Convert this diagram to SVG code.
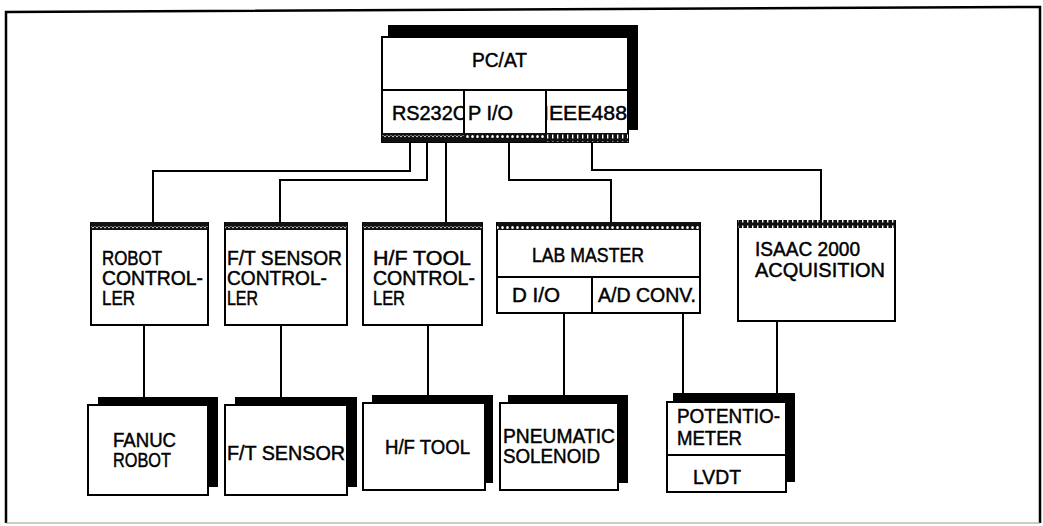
<svg xmlns="http://www.w3.org/2000/svg" width="1043" height="526" viewBox="0 0 1043 526">
<style>
.box{fill:#fff;stroke:#000;stroke-width:2}
.div{fill:none;stroke:#000;stroke-width:2}
.sh{fill:#000}
.con{fill:none;stroke:#000;stroke-width:2;stroke-linejoin:miter}
text{font-family:"Liberation Sans",Arial,Helvetica,sans-serif;font-size:19.5px;fill:#000;stroke:#000;stroke-width:0.45}
</style>
<defs>
<pattern id="pDots" width="4" height="7" patternUnits="userSpaceOnUse">
<rect width="4" height="7" fill="#111"/>
<circle cx="1" cy="3.5" r="0.8" fill="#fff"/>
<circle cx="3" cy="2.5" r="0.6" fill="#ddd"/>
</pattern>
<pattern id="pWave" width="5" height="7" patternUnits="userSpaceOnUse">
<rect width="5" height="7" fill="#111"/>
<ellipse cx="2.5" cy="3.5" rx="1.3" ry="1.6" fill="#fff"/>
</pattern>
<pattern id="pTicks" width="5" height="7" patternUnits="userSpaceOnUse">
<rect width="5" height="7" fill="#111"/>
<rect x="2" y="1.5" width="1.4" height="4" fill="#fff"/>
</pattern>
<clipPath id="cRS"><rect x="382" y="90" width="82" height="43"/></clipPath>
<clipPath id="cIE"><rect x="546" y="90" width="82" height="43"/></clipPath>
</defs>
<rect width="1043" height="526" fill="#fff"/>
<g id="frame">
<polyline points="6,523 6,12 1040,7 1040,523" fill="none" stroke="#000" stroke-width="2.5"/>
<line x1="6" y1="523" x2="1040" y2="523" stroke="#999" stroke-width="1"/>
</g>
<g id="connectors">
<polyline class="con" points="410,142 410,171 153,171 153,223"/>
<polyline class="con" points="427,142 427,180 280,180 280,223"/>
<polyline class="con" points="446,142 446,223"/>
<polyline class="con" points="509,142 509,180 611,180 611,222"/>
<polyline class="con" points="592,142 592,170 821,170 821,220"/>
<line class="con" x1="144" y1="325" x2="144" y2="398"/>
<line class="con" x1="281" y1="325" x2="281" y2="398"/>
<line class="con" x1="428" y1="325" x2="428" y2="396"/>
<line class="con" x1="564" y1="313" x2="564" y2="396"/>
<line class="con" x1="683" y1="313" x2="683" y2="394"/>
<line class="con" x1="777" y1="321" x2="777" y2="394"/>
</g>
<g id="pcat">
<rect class="sh" x="388" y="25" width="250" height="105"/>
<rect class="box" x="382" y="37" width="246" height="105"/>
<line class="div" x1="382" y1="90" x2="628" y2="90"/>
<rect x="382" y="133" width="82" height="9" fill="url(#pDots)"/>
<rect x="464" y="133" width="82" height="9" fill="url(#pWave)"/>
<rect x="546" y="133" width="82" height="9" fill="url(#pTicks)"/>
<line class="div" x1="464" y1="90" x2="464" y2="133"/>
<line class="div" x1="546" y1="90" x2="546" y2="133"/>
<text x="472" y="67" textLength="55" lengthAdjust="spacingAndGlyphs">PC/AT</text>
<text x="392" y="120" textLength="75" lengthAdjust="spacingAndGlyphs" clip-path="url(#cRS)">RS232C</text>
<text x="468" y="120" textLength="45" lengthAdjust="spacingAndGlyphs">P I/O</text>
<text x="543" y="120" textLength="84" lengthAdjust="spacingAndGlyphs" clip-path="url(#cIE)">IEEE488</text>
</g>
<g id="robot-controller">
<rect class="box" x="91" y="223" width="117" height="102"/>
<rect x="91" y="222" width="117" height="8" fill="url(#pDots)"/>
<text x="102" y="265" textLength="60" lengthAdjust="spacingAndGlyphs">ROBOT</text>
<text x="102" y="285" textLength="101" lengthAdjust="spacingAndGlyphs">CONTROL-</text>
<text x="102" y="305" textLength="33" lengthAdjust="spacingAndGlyphs">LER</text>
</g>
<g id="ft-controller">
<rect class="box" x="225" y="223" width="122" height="102"/>
<rect x="225" y="222" width="122" height="8" fill="url(#pDots)"/>
<text x="227" y="265" textLength="115" lengthAdjust="spacingAndGlyphs">F/T SENSOR</text>
<text x="227" y="285" textLength="100" lengthAdjust="spacingAndGlyphs">CONTROL-</text>
<text x="227" y="305" textLength="31" lengthAdjust="spacingAndGlyphs">LER</text>
</g>
<g id="hf-controller">
<rect class="box" x="363" y="223" width="119" height="102"/>
<rect x="363" y="222" width="119" height="8" fill="url(#pDots)"/>
<text x="373" y="265" textLength="98" lengthAdjust="spacingAndGlyphs">H/F TOOL</text>
<text x="373" y="285" textLength="102" lengthAdjust="spacingAndGlyphs">CONTROL-</text>
<text x="373" y="305" textLength="32" lengthAdjust="spacingAndGlyphs">LER</text>
</g>
<g id="lab-master">
<rect class="box" x="497" y="223" width="203" height="90"/>
<rect x="497" y="222" width="203" height="8" fill="url(#pWave)"/>
<line class="div" x1="497" y1="277" x2="700" y2="277"/>
<line class="div" x1="592" y1="277" x2="592" y2="313"/>
<text x="532" y="262" textLength="112" lengthAdjust="spacingAndGlyphs">LAB MASTER</text>
<text x="512" y="302" textLength="48" lengthAdjust="spacingAndGlyphs">D  I/O</text>
<text x="598" y="302" textLength="98" lengthAdjust="spacingAndGlyphs">A/D CONV.</text>
</g>
<g id="isaac">
<rect class="box" x="738" y="221" width="157" height="100"/>
<rect x="738" y="220" width="157" height="8" fill="url(#pTicks)"/>
<text x="755" y="256" textLength="105" lengthAdjust="spacingAndGlyphs">ISAAC 2000</text>
<text x="755" y="277" textLength="130" lengthAdjust="spacingAndGlyphs">ACQUISITION</text>
</g>
<g id="fanuc">
<rect class="sh" x="98" y="397" width="120" height="90"/>
<rect class="box" x="88" y="405" width="120" height="90"/>
<text x="113" y="447" textLength="63" lengthAdjust="spacingAndGlyphs">FANUC</text>
<text x="113" y="467" textLength="58" lengthAdjust="spacingAndGlyphs">ROBOT</text>
</g>
<g id="ft-sensor">
<rect class="sh" x="235" y="397" width="122" height="90"/>
<rect class="box" x="225" y="405" width="122" height="90"/>
<text x="227" y="460" textLength="118" lengthAdjust="spacingAndGlyphs">F/T SENSOR</text>
</g>
<g id="hf-tool">
<rect class="sh" x="372" y="395" width="121" height="88"/>
<rect class="box" x="363" y="403" width="122" height="87"/>
<text x="385" y="454" textLength="85" lengthAdjust="spacingAndGlyphs">H/F TOOL</text>
</g>
<g id="pneumatic">
<rect class="sh" x="508" y="395" width="120" height="88"/>
<rect class="box" x="500" y="403" width="118" height="87"/>
<text x="503" y="443" textLength="112" lengthAdjust="spacingAndGlyphs">PNEUMATIC</text>
<text x="503" y="463" textLength="97" lengthAdjust="spacingAndGlyphs">SOLENOID</text>
</g>
<g id="potentiometer">
<rect class="sh" x="673" y="393" width="122" height="89"/>
<rect class="box" x="667" y="402" width="119" height="90"/>
<line class="div" x1="667" y1="455" x2="786" y2="455"/>
<text x="677" y="423" textLength="103" lengthAdjust="spacingAndGlyphs">POTENTIO-</text>
<text x="677" y="445" textLength="65" lengthAdjust="spacingAndGlyphs">METER</text>
<text x="693" y="484" textLength="48" lengthAdjust="spacingAndGlyphs">LVDT</text>
</g>
</svg>
